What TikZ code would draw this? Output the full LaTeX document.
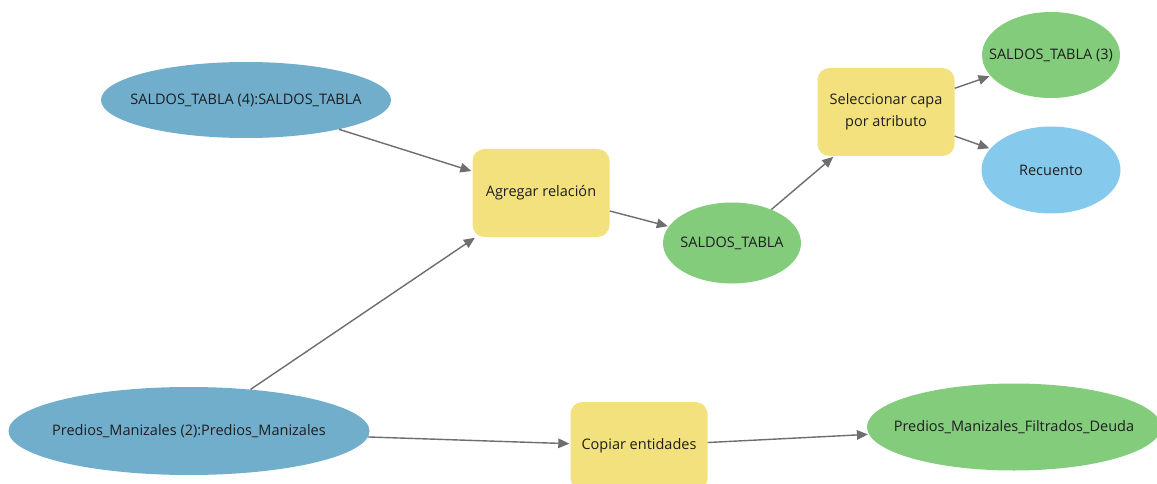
\documentclass[tikz,border=0pt]{standalone}
\usepackage{fontspec}
\setmainfont{Open Sans}
\usetikzlibrary{shapes.geometric,arrows.meta}
\definecolor{inblue}{HTML}{71AECC}
\definecolor{outgreen}{HTML}{82CC7C}
\definecolor{toolyellow}{HTML}{F2E17D}
\definecolor{valblue}{HTML}{85CAEC}
\definecolor{linkgray}{HTML}{6E6E6E}
\definecolor{labeltext}{HTML}{1E1E1E}
% label of fixed-size ovals: zero width, so the oval keeps its set size
\newcommand{\lbl}[1]{\makebox[0pt][c]{#1}}
\tikzset{
  oval/.style={ellipse, draw=none, inner sep=0pt, font=\fontsize{14.5}{17}\selectfont, text=labeltext},
  inputvar/.style={oval, fill=inblue},
  outputvar/.style={oval, fill=outgreen},
  valuevar/.style={oval, fill=valblue},
  tool/.style={rectangle, rounded corners=12pt, fill=toolyellow, draw=none, inner sep=0pt,
    minimum width=137pt, minimum height=88pt, align=center,
    font=\fontsize{14.5}{22}\selectfont, text=labeltext},
  link/.style={draw=linkgray, line width=1.4pt, -{Triangle[length=11pt,width=9.5pt]}, shorten >=1pt}
}
\begin{document}
\begin{tikzpicture}[x=1pt,y=-1pt]
\useasboundingbox (0,0) rectangle (1157,484);
\fill[white] (0,0) rectangle (1157,484);

% inputs
\node[inputvar, minimum width=290pt, minimum height=76pt] (saldos4) at (246,100) {\lbl{SALDOS\_TABLA (4):SALDOS\_TABLA}};
\node[inputvar, minimum width=361pt, minimum height=88pt] (predios2) at (189,431) {\lbl{Predios\_Manizales (2):Predios\_Manizales}};

% tools
\node[tool] (agregar) at (541,193) {Agregar relación};
\node[tool] (selcapa) at (886,112) {Seleccionar capa\\por atributo};
\node[tool] (copiar) at (639,446) {Copiar entidades};

% outputs
\node[outputvar, minimum width=138pt, minimum height=81pt] (saldos) at (732,243) {\lbl{SALDOS\_TABLA}};
\node[outputvar, minimum width=138pt, minimum height=86pt] (saldos3) at (1051,55) {\lbl{SALDOS\_TABLA (3)}};
\node[valuevar, minimum width=139pt, minimum height=87pt] (recuento) at (1051,170) {\lbl{Recuento}};
\node[outputvar, minimum width=294pt, minimum height=87pt] (filtrados) at (1014,427) {\lbl{Predios\_Manizales\_Filtrados\_Deuda}};

% connections
\draw[link] (saldos4) -- (agregar);
\draw[link] (predios2) -- (agregar);
\draw[link] (agregar) -- (saldos);
\draw[link] (saldos) -- (selcapa);
\draw[link] (selcapa) -- (saldos3);
\draw[link] (selcapa) -- (recuento);
\draw[link] (predios2) -- (copiar);
\draw[link] (copiar) -- (filtrados);
\end{tikzpicture}
\end{document}
